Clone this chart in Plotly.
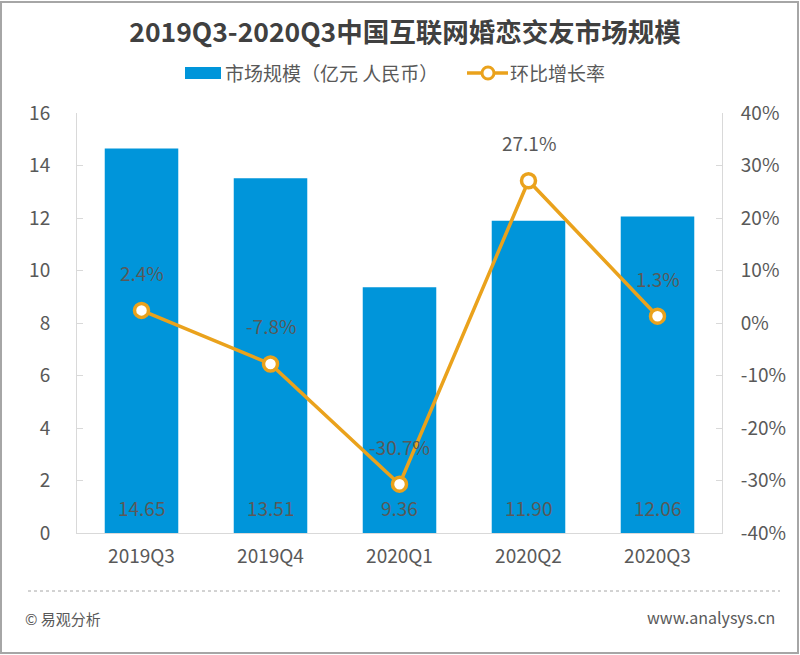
import plotly.graph_objects as go

categories = ["2019Q3", "2019Q4", "2020Q1", "2020Q2", "2020Q3"]
market_size = [14.65, 13.51, 9.36, 11.90, 12.06]
growth_rate = [2.4, -7.8, -30.7, 27.1, 1.3]
left_ticks = [0, 2, 4, 6, 8, 10, 12, 14, 16]
right_ticks = [-40, -30, -20, -10, 0, 10, 20, 30, 40]
bar_name = "市场规模（亿元 人民币）"
line_name = "环比增长率"

FONT = "Noto Sans CJK SC"
BLUE = "#0095DA"
ORANGE = "#EAA21C"
GRAY = "#595959"
AXIS = "#D9D9D9"
FS = 19

L, R, T, B = 77, 78, 113, 122
W, H = 800, 655
pw, ph = W - L - R, H - T - B
def px(x):
    return (x - L) / pw
def py(y):
    return (H - B - y) / ph

fig = go.Figure()
fig.add_trace(go.Bar(
    x=categories, y=market_size, name=bar_name,
    marker=dict(color=BLUE, line=dict(width=0)), yaxis="y", showlegend=False,
))
fig.add_trace(go.Scatter(
    x=categories, y=growth_rate, name=line_name, yaxis="y2",
    mode="lines+markers", showlegend=False,
    line=dict(color=ORANGE, width=3.5),
    marker=dict(size=14, color="white", line=dict(color=ORANGE, width=3.5)),
))

annotations = []
for c, v in zip(categories, market_size):
    annotations.append(dict(x=c, y=0, xref="x", yref="y", text=f"{v:.2f}",
                            showarrow=False, yanchor="middle", yshift=26,
                            font=dict(family=FONT, size=FS, color=GRAY)))
for c, g in zip(categories, growth_rate):
    annotations.append(dict(x=c, y=g, xref="x", yref="y2", text=f"{g:.1f}%",
                            showarrow=False, yanchor="middle", yshift=38,
                            font=dict(family=FONT, size=FS, color=GRAY)))
# footer
annotations.append(dict(x=px(23), y=py(618), xref="paper", yref="paper", text="© 易观分析",
                        showarrow=False, xanchor="left", yanchor="middle",
                        font=dict(family=FONT, size=15, color=GRAY)))
annotations.append(dict(x=px(777), y=py(617), xref="paper", yref="paper", text="www.analysys.cn",
                        showarrow=False, xanchor="right", yanchor="middle",
                        font=dict(family=FONT, size=16, color=GRAY)))
# custom legend text
annotations.append(dict(x=px(223), y=py(73), xref="paper", yref="paper", text=bar_name,
                        showarrow=False, xanchor="left", yanchor="middle",
                        font=dict(family=FONT, size=19, color=GRAY)))
annotations.append(dict(x=px(508), y=py(73), xref="paper", yref="paper", text=line_name,
                        showarrow=False, xanchor="left", yanchor="middle",
                        font=dict(family=FONT, size=19, color=GRAY)))

shapes = [
    dict(type="line", xref="paper", yref="paper", x0=px(28), x1=px(780),
         y0=py(591), y1=py(591), line=dict(color="#A6A6A6", width=1, dash="dot")),
    dict(type="rect", xref="paper", yref="paper", x0=px(1), x1=px(798),
         y0=py(2), y1=py(653), line=dict(color="#A6A6A6", width=2)),
    # legend symbols
    dict(type="rect", xref="paper", yref="paper", x0=px(185), x1=px(221),
         y0=py(67), y1=py(79), fillcolor=BLUE, line=dict(width=0)),
    dict(type="line", xref="paper", yref="paper", x0=px(467), x1=px(508),
         y0=py(73), y1=py(73), line=dict(color=ORANGE, width=3.5)),
    dict(type="circle", xref="paper", yref="paper", x0=px(482), x1=px(494),
         y0=py(67), y1=py(79), fillcolor="white", line=dict(color=ORANGE, width=3)),
]

fig.update_layout(
    width=W, height=H,
    margin=dict(l=L, r=R, t=T, b=B),
    paper_bgcolor="white", plot_bgcolor="white",
    bargap=0.43,
    showlegend=False,
    title=dict(text="<b>2019Q3-2020Q3中国互联网婚恋交友市场规模</b>",
               x=405 / W, xanchor="center", xref="container",
               y=1 - 33 / H, yanchor="middle", yref="container",
               font=dict(family=FONT, size=26.5, color="#404040")),
    xaxis=dict(showline=True, linecolor=AXIS, linewidth=1, ticks="",
               tickfont=dict(family=FONT, size=FS, color=GRAY), showgrid=False,
               ticklabelstandoff=6),
    yaxis=dict(range=[0, 16], tickvals=left_ticks, showgrid=False, zeroline=False,
               showline=True, linecolor=AXIS, linewidth=1,
               ticks="inside", ticklen=6, tickcolor=AXIS,
               tickfont=dict(family=FONT, size=FS, color=GRAY), ticklabelstandoff=22),
    yaxis2=dict(range=[-40, 40], tickvals=right_ticks,
                ticktext=[f"{t}%" for t in right_ticks],
                overlaying="y", side="right", showgrid=False, zeroline=False,
                showline=True, linecolor=AXIS, linewidth=1,
                ticks="inside", ticklen=6, tickcolor=AXIS,
                tickfont=dict(family=FONT, size=FS, color=GRAY), ticklabelstandoff=14),
    annotations=annotations,
    shapes=shapes,
)

fig.write_html("out.html")
